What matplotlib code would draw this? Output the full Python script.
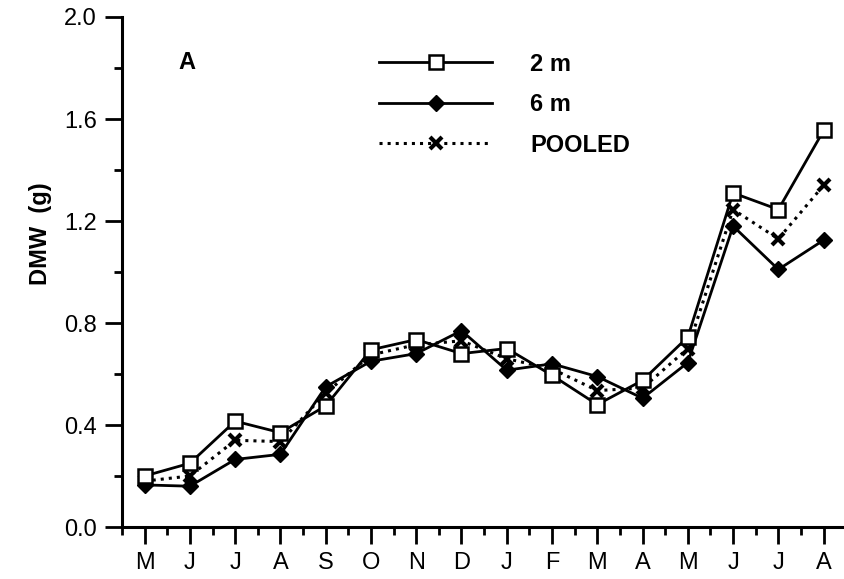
import numpy as np
import matplotlib.pyplot as plt
from matplotlib.ticker import MultipleLocator

plt.rcParams['font.family'] = ['Liberation Sans', 'DejaVu Sans']

months = ['M', 'J', 'J', 'A', 'S', 'O', 'N', 'D', 'J', 'F', 'M', 'A', 'M', 'J', 'J', 'A']
dmw_2m = [0.20, 0.25, 0.415, 0.37, 0.475, 0.695, 0.735, 0.68, 0.70, 0.595, 0.48, 0.575, 0.745, 1.31, 1.245, 1.555]
dmw_6m = [0.165, 0.16, 0.265, 0.285, 0.55, 0.65, 0.68, 0.77, 0.615, 0.64, 0.59, 0.505, 0.645, 1.18, 1.01, 1.125]
dmw_pooled = [0.18, 0.20, 0.34, 0.335, 0.525, 0.675, 0.715, 0.73, 0.66, 0.62, 0.535, 0.545, 0.70, 1.245, 1.13, 1.34]

x = np.arange(len(months))

fig = plt.figure(figsize=(8.44, 5.79), dpi=100)
ax = fig.add_axes([122/844, 1 - 527/579, (844 - 122)/844, (527 - 17)/579])

ax.plot(x, dmw_6m, color='black', lw=2.0, marker='D', ms=8, mfc='black', mec='black', label='6 m', zorder=3)
ax.plot(x, dmw_pooled, color='black', lw=2.2, ls=':', marker='x', ms=9, mew=3, label='POOLED', zorder=4)
ax.plot(x, dmw_2m, color='black', lw=2.0, marker='s', ms=10, mfc='white', mec='black', mew=1.8, label='2 m', zorder=5)

ax.set_xlim(-0.5, 15.45)
ax.set_ylim(0, 2.0)
ax.set_xticks(x)
ax.set_xticklabels(months)
ax.xaxis.set_minor_locator(MultipleLocator(0.5))
ax.yaxis.set_major_locator(MultipleLocator(0.4))
ax.yaxis.set_minor_locator(MultipleLocator(0.2))
ax.yaxis.set_major_formatter(plt.FormatStrFormatter('%.1f'))

for side in ['top', 'right']:
    ax.spines[side].set_visible(False)
for side in ['left', 'bottom']:
    ax.spines[side].set_linewidth(2.2)

ax.tick_params(which='major', length=12, width=2, labelsize=17, direction='out', pad=6)
ax.tick_params(which='minor', length=6, width=2, direction='out')

ax.set_ylabel('DMW  (g)', fontsize=17, fontweight='bold')
ax.yaxis.set_label_coords(-0.097, 0.575)

ax.text(0.93, 1.82, 'A', fontsize=17, fontweight='bold', ha='center', va='center')

handles, labels = ax.get_legend_handles_labels()
order = [2, 0, 1]
ax.legend([handles[i] for i in order], [labels[i] for i in order],
          loc='upper left', bbox_to_anchor=(0.356, 0.93), frameon=False,
          borderpad=0, borderaxespad=0,
          handlelength=4.8, handletextpad=1.6, labelspacing=0.74,
          prop={'size': 17, 'weight': 'bold'})

fig.savefig('out.png', dpi=100)
